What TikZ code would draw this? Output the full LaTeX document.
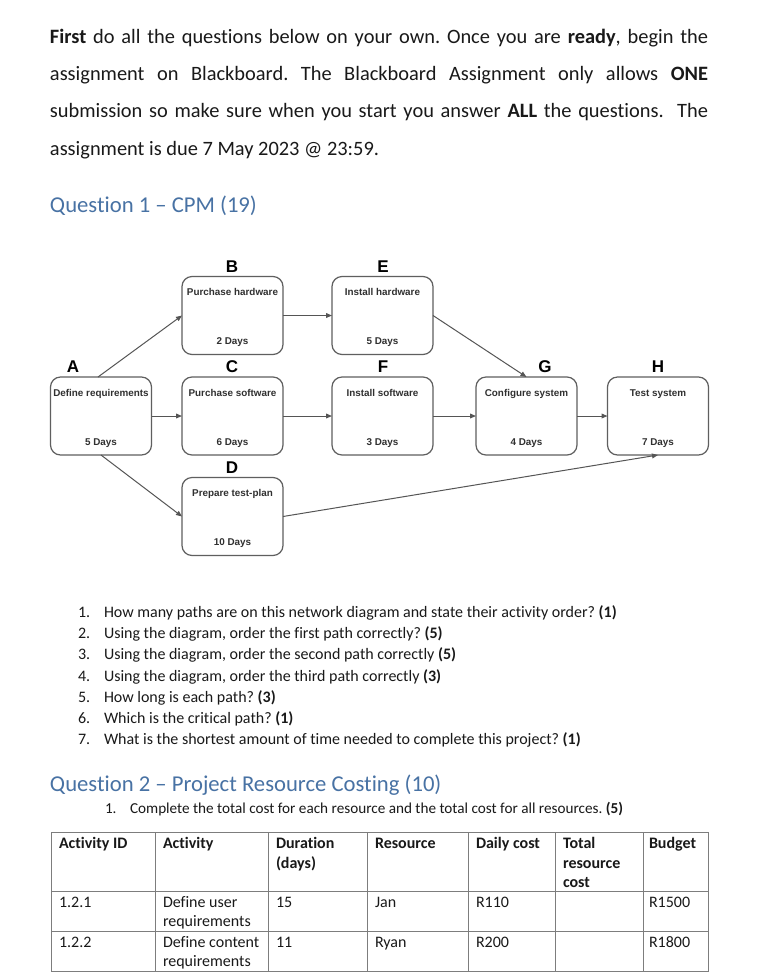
\documentclass[tikz,border=0pt]{standalone}
\usepackage{fontspec}
\setmainfont[Ligatures=CommonOff]{Carlito}
\newfontfamily\diagfont{Liberation Sans}
\usetikzlibrary{arrows.meta,calc}
\definecolor{headblue}{RGB}{72,114,164}
\definecolor{linegray}{RGB}{85,85,85}
\definecolor{boxgray}{RGB}{95,95,95}
\definecolor{txt}{RGB}{25,25,25}
\definecolor{tblgray}{RGB}{125,125,125}
\frenchspacing
\begin{document}
\begin{tikzpicture}[x=0.75pt,y=-0.75pt,
  every node/.style={inner sep=0pt, outer sep=0pt},
  para/.style={anchor=base west, font=\fontsize{15.3}{18}\selectfont, text=txt},
  head/.style={anchor=base west, font=\fontsize{17}{20}\selectfont, text=headblue},
  itemtxt/.style={anchor=base west, font=\fontsize{12}{14}\selectfont, text=txt},
  item2txt/.style={anchor=base west, font=\fontsize{11.4}{14}\selectfont, text=txt},
  cell/.style={anchor=base west, font=\fontsize{12}{14}\selectfont, text=txt},
  hcell/.style={cell, font=\fontsize{12}{14}\selectfont\bfseries},
  actbox/.style={draw=boxgray, line width=0.9pt, rounded corners=7.5pt, minimum width=75.75pt, minimum height=58.5pt},
  boxtxt/.style={anchor=base, font=\diagfont\bfseries\fontsize{7.4}{9}\selectfont, text=txt!90!white},
  letter/.style={font=\diagfont\bfseries\fontsize{12.75}{14}\selectfont, text=black},
  conn/.style={draw=linegray, line width=0.75pt, -{Triangle[length=4.5pt,width=3.6pt]}},
  tbl/.style={draw=tblgray, line width=0.75pt}
]
\useasboundingbox[fill=white] (0,0) rectangle (759,972);

% ---------- intro paragraph ----------
\node[para] (p1) at (50,43) {\makebox[493.5pt][s]{\textbf{First} do all the questions below on your own. Once you are \textbf{ready}, begin the}};
\node[para] (p2) at (50,80) {\makebox[493.5pt][s]{assignment on Blackboard. The Blackboard Assignment only allows \textbf{ONE}}};
\node[para] (p3) at (50,117) {\makebox[493.5pt][s]{submission so make sure when you start you answer \textbf{ALL} the questions.\ \ The}};
\node[para] (p4) at (50,155) {assignment is due 7 May 2023 @ 23:59.};

\node[head] (h1) at (50,212) {Question 1 – CPM (19)};

% ---------- network diagram ----------
\node[actbox] (A) at (101,416) {};
\node[actbox] (B) at (232.5,315.5) {};
\node[actbox] (C) at (232.5,416) {};
\node[actbox] (D) at (232.5,516.5) {};
\node[actbox] (E) at (382.5,315.5) {};
\node[actbox] (F) at (382.5,416) {};
\node[actbox] (G) at (526.5,416) {};
\node[actbox] (H) at (658,416) {};

\node[letter] (lA) at (73,367) {A};
\node[letter] (lB) at (232,267) {B};
\node[letter] (lC) at (232,367) {C};
\node[letter] (lD) at (232,468) {D};
\node[letter] (lE) at (383,267) {E};
\node[letter] (lF) at (383,367) {F};
\node[letter] (lG) at (545,367) {G};
\node[letter] (lH) at (658,367) {H};

\node[boxtxt] (tA) at ($(A.north)+(0,19)$) {Define requirements};
\node[boxtxt] (dA) at ($(A.south)+(0,-10)$) {5 Days};
\node[boxtxt] (tB) at ($(B.north)+(0,19)$) {Purchase hardware};
\node[boxtxt] (dB) at ($(B.south)+(0,-10)$) {2 Days};
\node[boxtxt] (tC) at ($(C.north)+(0,19)$) {Purchase software};
\node[boxtxt] (dC) at ($(C.south)+(0,-10)$) {6 Days};
\node[boxtxt] (tD) at ($(D.north)+(0,19)$) {Prepare test-plan};
\node[boxtxt] (dD) at ($(D.south)+(0,-10)$) {10 Days};
\node[boxtxt] (tE) at ($(E.north)+(0,19)$) {Install hardware};
\node[boxtxt] (dE) at ($(E.south)+(0,-10)$) {5 Days};
\node[boxtxt] (tF) at ($(F.north)+(0,19)$) {Install software};
\node[boxtxt] (dF) at ($(F.south)+(0,-10)$) {3 Days};
\node[boxtxt] (tG) at ($(G.north)+(0,19)$) {Configure system};
\node[boxtxt] (dG) at ($(G.south)+(0,-10)$) {4 Days};
\node[boxtxt] (tH) at ($(H.north)+(0,19)$) {Test system};
\node[boxtxt] (dH) at ($(H.south)+(0,-10)$) {7 Days};

\draw[conn] ($(A.north)+(-3,0)$) -- (B.west);
\draw[conn] (A.east) -- (C.west);
\draw[conn] (A.south) -- (D.west);
\draw[conn] (B.east) -- (E.west);
\draw[conn] (C.east) -- (F.west);
\draw[conn] (E.east) -- (G.north);
\draw[conn] (F.east) -- (G.west);
\draw[conn] (G.east) -- (H.west);
\draw[conn] (D.east) -- (H.south);

% ---------- question list ----------
\node[itemtxt] (n1) at (78,617) {1.};
\node[itemtxt] (q1) at (104,617) {How many paths are on this network diagram and state their activity order? \textbf{(1)}};
\node[itemtxt] (n2) at (78,638) {2.};
\node[itemtxt] (q2) at (104,638) {Using the diagram, order the first path correctly? \textbf{(5)}};
\node[itemtxt] (n3) at (78,659.5) {3.};
\node[itemtxt] (q3) at (104,659.5) {Using the diagram, order the second path correctly \textbf{(5)}};
\node[itemtxt] (n4) at (78,681) {4.};
\node[itemtxt] (q4) at (104,681) {Using the diagram, order the third path correctly \textbf{(3)}};
\node[itemtxt] (n5) at (78,702) {5.};
\node[itemtxt] (q5) at (104,702) {How long is each path? \textbf{(3)}};
\node[itemtxt] (n6) at (78,723) {6.};
\node[itemtxt] (q6) at (104,723) {Which is the critical path? \textbf{(1)}};
\node[itemtxt] (n7) at (78,744) {7.};
\node[itemtxt] (q7) at (104,744) {What is the shortest amount of time needed to complete this project? \textbf{(1)}};

% ---------- question 2 ----------
\node[head] (h2) at (50,791) {Question 2 – Project Resource Costing (10)};
\node[item2txt] (m1) at (105,813) {1.};
\node[item2txt] (r1) at (130,813) {Complete the total cost for each resource and the total cost for all resources. \textbf{(5)}};

% ---------- table ----------
\draw[tbl] (51,832) rectangle (708,971);
\foreach \xx in {155,268,367,468,555,643} \draw[tbl] (\xx,832) -- (\xx,971);
\foreach \yy in {891,931} \draw[tbl] (51,\yy) -- (708,\yy);

\node[hcell] (c11) at (59,848) {Activity ID};
\node[hcell] (c12) at (163,848) {Activity};
\node[hcell] (c13) at (276,848) {Duration};
\node[hcell] (c13b) at (276,868) {(days)};
\node[hcell] (c14) at (375,848) {Resource};
\node[hcell] (c15) at (476,848) {Daily cost};
\node[hcell] (c16) at (563,848) {Total};
\node[hcell] (c16b) at (563,868) {resource};
\node[hcell] (c16c) at (563,887) {cost};
\node[hcell] (c17) at (649,848) {Budget};

\node[cell] (c21) at (59,907) {1.2.1};
\node[cell] (c22) at (163,907) {Define user};
\node[cell] (c22b) at (163,926.5) {requirements};
\node[cell] (c23) at (276,907) {15};
\node[cell] (c24) at (375,907) {Jan};
\node[cell] (c25) at (476,907) {R110};
\node[cell] (c27) at (649,907) {R1500};

\node[cell] (c31) at (59,947) {1.2.2};
\node[cell] (c32) at (163,947) {Define content};
\node[cell] (c32b) at (163,966.5) {requirements};
\node[cell] (c33) at (276,947) {11};
\node[cell] (c34) at (375,947) {Ryan};
\node[cell] (c35) at (476,947) {R200};
\node[cell] (c37) at (649,947) {R1800};
\end{tikzpicture}
\end{document}
